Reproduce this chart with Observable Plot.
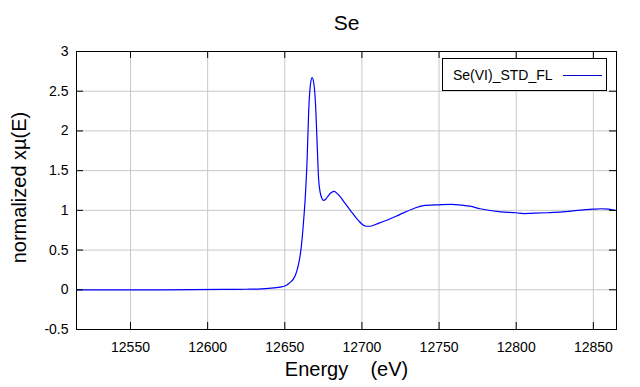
<!DOCTYPE html>
<html>
<head>
<meta charset="utf-8">
<script src="https://cdn.jsdelivr.net/npm/d3@7"></script>
<script src="https://cdn.jsdelivr.net/npm/@observablehq/plot@0.6"></script>
<style>
  html, body { margin: 0; padding: 0; background: #fff; }
  #wrap { position: relative; width: 640px; height: 387px; font-family: "Liberation Sans", Arial, sans-serif; }
  #legend { position: absolute; left: 442px; top: 58px; width: 165px; height: 33px; border: 1px solid #000; background: #fff; box-sizing: border-box; }
  #legend span { position: absolute; left: 10px; top: 8px; font-size: 14px; line-height: 16px; color: #000; }
  #legend i { position: absolute; left: 120px; top: 16px; width: 39px; height: 0; border-top: 1px solid #0000cc; }
</style>
</head>
<body>
<div id="wrap"><div id="legend"><span>Se(VI)_STD_FL</span><i></i></div></div>
<script>
const energy = [12515, 12530, 12550, 12570, 12590, 12610, 12625, 12635, 12642.8, 12647.1, 12650.5, 12653.0, 12655.5, 12657.0, 12658.0, 12659.0, 12660.7, 12662.2, 12663.3, 12664.4, 12665.5, 12666.6, 12667.7, 12668.8, 12669.8, 12670.9, 12671.9, 12673.0, 12674.1, 12675.2, 12676.5, 12678.4, 12680.2, 12682.1, 12684, 12686, 12689, 12692.5, 12697.8, 12700.5, 12702.8, 12705.5, 12709.8, 12717.3, 12724.8, 12733.3, 12739.7, 12750, 12758, 12765, 12770, 12776.6, 12790, 12800, 12805, 12810, 12820, 12830, 12840, 12850, 12855, 12860, 12864];
const mu = [0, -0.002, -0.002, 0.0, 0.002, 0.004, 0.007, 0.012, 0.023, 0.034, 0.05, 0.085, 0.135, 0.19, 0.25, 0.33, 0.54, 0.87, 1.17, 1.6, 2.25, 2.58, 2.67, 2.6, 2.38, 1.88, 1.4, 1.22, 1.15, 1.125, 1.14, 1.19, 1.225, 1.24, 1.21, 1.17, 1.09, 1.0, 0.87, 0.82, 0.80, 0.80, 0.83, 0.885, 0.95, 1.02, 1.06, 1.07, 1.075, 1.065, 1.053, 1.02, 0.98, 0.97, 0.96, 0.963, 0.97, 0.98, 1.0, 1.015, 1.02, 1.015, 1.0];
const xTicks = [12550, 12600, 12650, 12700, 12750, 12800, 12850];
const yTicks = [-0.5, 0, 0.5, 1, 1.5, 2, 2.5, 3];
const title = "Se";
const xLabel = "Energy\u00a0\u00a0\u00a0\u00a0(eV)";
const yLabel = "normalized xµ(E)";

const data = energy.map((e, i) => ({e, v: mu[i]}));
const fmt = d => String(d);
const W = 640, H = 387, ML = 76, MR = 24, MT = 51, MB = 58, TK = 7;
const fw = W - ML - MR, fh = H - MT - MB;

const chart = Plot.plot({
  width: W,
  height: H,
  marginLeft: ML,
  marginRight: MR,
  marginTop: MT,
  marginBottom: MB,
  style: {fontFamily: "'Liberation Sans', Arial, sans-serif", fontSize: "14px", color: "#000", background: "#fff"},
  x: {domain: [12515, 12865]},
  y: {domain: [-0.5, 3]},
  marks: [
    Plot.gridX(xTicks, {stroke: "#c8c8c8", strokeOpacity: 1}),
    Plot.gridY(yTicks, {stroke: "#c8c8c8", strokeOpacity: 1}),
    Plot.line(data, {x: "e", y: "v", stroke: "#0000ff", strokeWidth: 1.2, curve: "monotone-x"}),
    Plot.frame({stroke: "#000"}),
    Plot.ruleX(xTicks, {x: d => d, insetTop: fh - TK, stroke: "#000"}),
    Plot.ruleX(xTicks, {x: d => d, insetBottom: fh - TK, stroke: "#000"}),
    Plot.ruleY(yTicks, {y: d => d, insetRight: fw - TK, stroke: "#000"}),
    Plot.ruleY(yTicks, {y: d => d, insetLeft: fw - TK, stroke: "#000"}),
    Plot.axisX(xTicks, {anchor: "bottom", tickSize: 0, tickPadding: 13, tickFormat: fmt, label: null, fontSize: 14}),
    Plot.axisY(yTicks, {anchor: "left", tickSize: 0, tickPadding: 8, tickFormat: fmt, label: null, fontSize: 14}),
    Plot.text([title], {text: d => d, frameAnchor: "top", dy: -28, fontSize: 21, lineAnchor: "middle", textAnchor: "middle", fill: "#000"}),
    Plot.text([xLabel], {text: d => d, frameAnchor: "bottom", dy: 40, fontSize: 20, lineAnchor: "middle", textAnchor: "middle", fill: "#000"}),
    Plot.text([yLabel], {text: d => d, frameAnchor: "left", dx: -57, dy: -3, rotate: -90, fontSize: 20, lineAnchor: "middle", textAnchor: "middle", fill: "#000"})
  ]
});
document.getElementById("wrap").prepend(chart);
</script>
</body>
</html>
